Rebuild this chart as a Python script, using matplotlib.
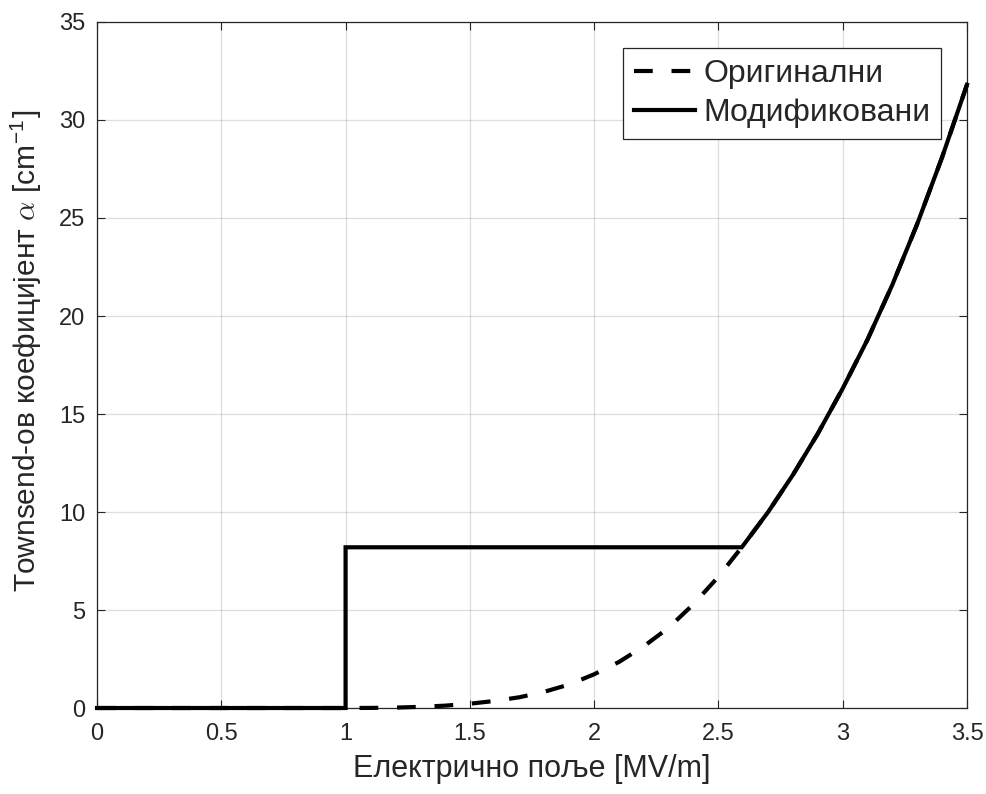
import numpy as np
import matplotlib
matplotlib.use("Agg")
import matplotlib.pyplot as plt
from matplotlib.ticker import FormatStrFormatter, MultipleLocator

plt.rcParams['font.family'] = ['Liberation Sans', 'DejaVu Sans']
plt.rcParams['mathtext.fontset'] = 'custom'
plt.rcParams['mathtext.rm'] = 'Liberation Sans'
plt.rcParams['mathtext.it'] = 'cmmi10'

# Electric field [MV/m] and Townsend coefficient of the original model [1/cm]
field = [0.0, 0.1, 0.2, 0.3, 0.4, 0.5, 0.6, 0.7, 0.8, 0.9, 1.0,
         1.1, 1.2, 1.3, 1.4, 1.5, 1.6, 1.7, 1.8, 1.9, 2.0,
         2.1, 2.2, 2.3, 2.4, 2.5, 2.6, 2.7, 2.8, 2.9, 3.0,
         3.1, 3.2, 3.3, 3.4, 3.5]
alpha_original = [0, 0, 0, 0, 0, 0, 0, 0, 0, 0, 0,
                  0.005, 0.02, 0.06, 0.12, 0.22, 0.36, 0.55, 0.83, 1.2, 1.72,
                  2.35, 3.15, 4.1, 5.3, 6.7, 8.3, 10.0, 11.9, 14.0, 16.3,
                  18.8, 21.6, 24.7, 28.1, 31.8]

# Modified model: zero below the threshold field, constant plateau until
# the original curve reaches it, then the original curve
threshold_field = 1.0
plateau_alpha = 8.2

series_labels = ['Оригинални', 'Модификовани']
x_label = 'Електрично поље [MV/m]'
y_label = r'Townsend-ов коефицијент $\alpha$ [cm$^{-1}$]'

E = np.array(field)
a_orig = np.array(alpha_original)
above = E > threshold_field
E_cross = np.interp(plateau_alpha, a_orig[above], E[above])

low = E < threshold_field
high = E > E_cross
E_mod = np.concatenate([E[low], [threshold_field, threshold_field, E_cross], E[high]])
a_mod = np.concatenate([np.zeros(low.sum()), [0.0, plateau_alpha, plateau_alpha], a_orig[high]])

txt = '#262626'
fig = plt.figure(figsize=(9.87, 7.94), dpi=100)
ax = fig.add_axes([0.0983, 0.1083, 0.8814, 0.864])

ax.plot(E, a_orig, color='black', lw=3, linestyle=(0, (4.5, 4.5)),
        label=series_labels[0], zorder=3, clip_on=False)
ax.plot(E_mod, a_mod, color='black', lw=3, label=series_labels[1],
        solid_joinstyle='miter', zorder=4, clip_on=False)

ax.set_xlim(0, 3.5)
ax.set_ylim(0, 35)
ax.xaxis.set_major_locator(MultipleLocator(0.5))
ax.yaxis.set_major_locator(MultipleLocator(5))
ax.xaxis.set_major_formatter(FormatStrFormatter('%g'))
ax.yaxis.set_major_formatter(FormatStrFormatter('%g'))

ax.grid(True, color=txt, alpha=0.15, lw=0.9)
ax.set_axisbelow(True)
ax.tick_params(direction='in', length=6, width=0.8, colors=txt,
               labelsize=17, top=True, right=True)
ax.tick_params(axis='x', pad=11)
ax.tick_params(axis='y', pad=8.5)
for sp in ax.spines.values():
    sp.set_color(txt)
    sp.set_linewidth(0.9)

ax.set_xlabel(x_label, fontsize=22, color=txt, labelpad=6)
ax.set_ylabel(y_label, fontsize=21.5, color=txt)
ax.yaxis.set_label_coords(-0.061, 0.52)

leg = ax.legend(loc='upper right', fontsize=23, frameon=True, fancybox=False,
                framealpha=1, edgecolor=txt, handlelength=1.9,
                handletextpad=0.25, borderpad=0.35, labelspacing=0.3,
                borderaxespad=0.8)
leg.get_frame().set_linewidth(0.9)
for t in leg.get_texts():
    t.set_color(txt)

fig.savefig('out.png', dpi=100)
